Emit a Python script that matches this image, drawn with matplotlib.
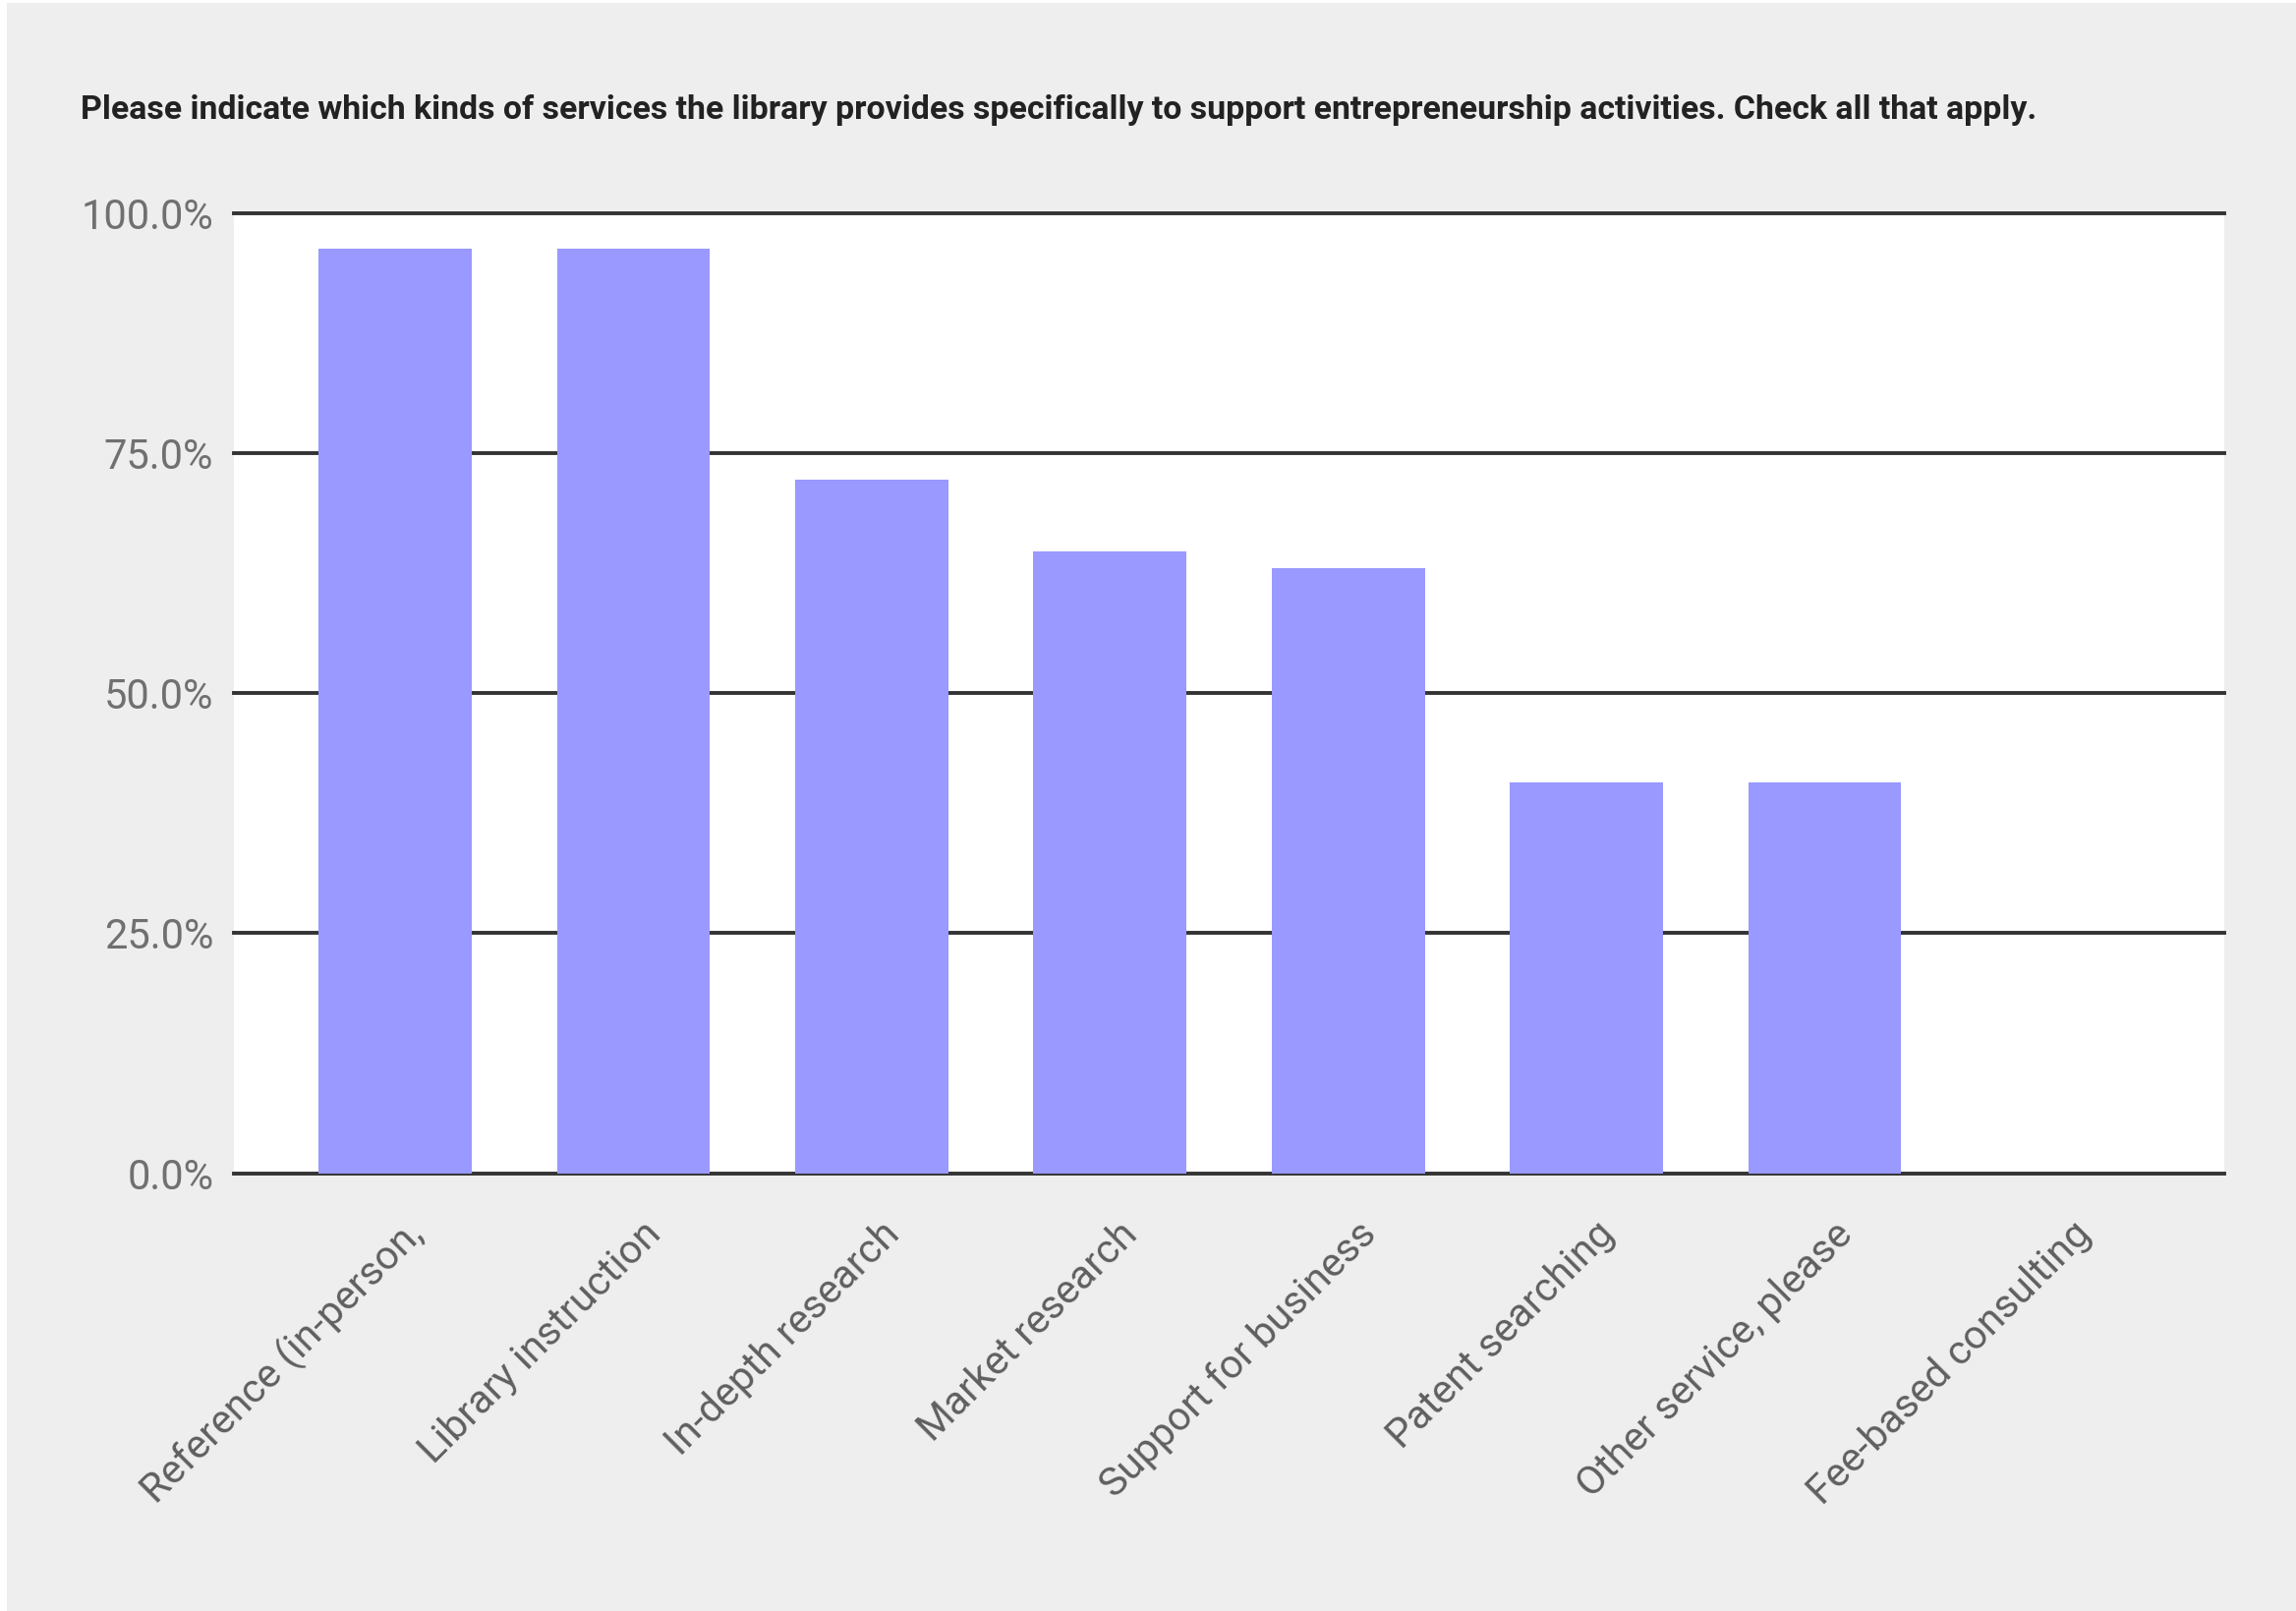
import matplotlib
matplotlib.use("Agg")
import matplotlib.pyplot as plt
import matplotlib.transforms as mtransforms
from matplotlib import font_manager
from matplotlib.patches import Rectangle
from matplotlib.ticker import FixedLocator, FuncFormatter

categories = [
    "Reference (in-person,",
    "Library instruction",
    "In-depth research",
    "Market research",
    "Support for business",
    "Patent searching",
    "Other service, please",
    "Fee-based consulting",
]
values = [96.3, 96.3, 72.2, 64.8, 63.0, 40.7, 40.7, 0.0]
y_ticks = [0, 25, 50, 75, 100]
title = ("Please indicate which kinds of services the library provides "
         "specifically to support entrepreneurship activities. Check all that apply.")

W, H, DPI = 2336, 1639, 100
fig = plt.figure(figsize=(W / DPI, H / DPI), dpi=DPI, facecolor="#eeeeee")

# thin white edge at top and left of the image
fig.patches.append(Rectangle((0, 0), 7 / W, 1, transform=fig.transFigure,
                             facecolor="white", edgecolor="none"))
fig.patches.append(Rectangle((0, 1 - 3 / H), 1, 3 / H, transform=fig.transFigure,
                             facecolor="white", edgecolor="none"))

left, right = 238 / W, 2263 / W
bottom, top = (H - 1193.7) / H, (H - 216.7) / H
ax = fig.add_axes([left, bottom, right - left, top - bottom])
ax.set_facecolor("white")

x = list(range(len(categories)))
ax.bar(x, values, width=0.642, color="#9999ff", zorder=2, linewidth=0)
ax.set_xlim(-0.676, len(categories) - 1 + 0.676)
ax.set_ylim(0, 100)

ax.yaxis.set_major_locator(FixedLocator(y_ticks))
ax.yaxis.set_major_formatter(FuncFormatter(lambda v, p: f"{v:.1f}%"))
ax.grid(axis="y", color="#333333", linewidth=2.8, zorder=1)
ax.set_axisbelow(True)
for gl in ax.get_ygridlines():
    gl.set_clip_on(False)
for s in ax.spines.values():
    s.set_visible(False)
ax.tick_params(axis="y", length=0, pad=15, labelsize=30, labelcolor="#707070")
ax.tick_params(axis="x", length=0)
ax.set_xticks([])
for lab in ax.get_yticklabels():
    lab.set_fontfamily("Roboto")

# x category labels
trans = mtransforms.blended_transform_factory(ax.transData, ax.transAxes)
off = mtransforms.offset_copy(trans, fig=fig, x=22, y=-56, units="dots")
for xi, c in zip(x, categories):
    ax.text(xi, 0, c, transform=off, rotation=45, rotation_mode="anchor",
            ha="right", va="center", fontsize=29.5, color="#5f5f5f",
            family="Roboto")

# title, fitted to target width
names = {f.name for f in font_manager.fontManager.ttflist}
tfam = "Liberation Sans Narrow" if "Liberation Sans Narrow" in names else "Roboto"
t = fig.text(82 / W, 1 - 112 / H, title, ha="left", va="center",
             fontsize=25, fontweight="bold", color="#222222", family=tfam)
fig.canvas.draw()
r = fig.canvas.get_renderer()
wpx = t.get_window_extent(r).width
t.set_fontsize(25 * 1993 / wpx)

fig.savefig("out.png", dpi=DPI, facecolor=fig.get_facecolor())
